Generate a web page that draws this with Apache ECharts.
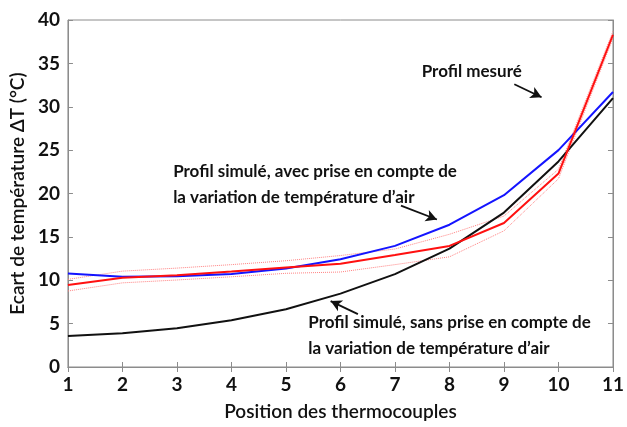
<!DOCTYPE html>
<html>
<head>
<meta charset="utf-8">
<script src="https://cdn.jsdelivr.net/npm/echarts@6/dist/echarts.min.js"></script>
<style>
  html, body { margin:0; padding:0; background:#fff; }
  #chart { width:627px; height:427px; }
</style>
</head>
<body>
<div id="chart"></div>
<script>
// positions des thermocouples
let positions = [1, 2, 3, 4, 5, 6, 7, 8, 9, 10, 11];
// profil mesuré + bornes (pointillés)
let mesure = [9.46, 10.3, 10.58, 11.0, 11.46, 11.9, 12.9, 13.96, 16.6, 22.3, 38.3];
let mesureHaut = [10.1, 11.05, 11.4, 11.8, 12.25, 12.85, 13.6, 15.3, 17.4, 22.8, 38.7];
let mesureBas = [8.76, 9.7, 10.03, 10.4, 10.8, 10.95, 11.8, 12.7, 15.7, 21.7, 37.9];
// profil simulé avec variation de température d'air
let simAvec = [10.77, 10.4, 10.46, 10.73, 11.35, 12.42, 13.96, 16.4, 19.8, 25.0, 31.7];
// profil simulé sans variation
let simSans = [3.58, 3.88, 4.46, 5.38, 6.65, 8.46, 10.7, 13.65, 17.8, 23.7, 31.0];
let yTicks = [0, 5, 10, 15, 20, 25, 30, 35, 40];

let font = "Lato, 'Open Sans', sans-serif";

function pairs(vals){
  let out = [];
  for(let i = 0; i < positions.length; i++){
    out.push([positions[i], vals[i]]);
  }
  return out;
}

let axisGray = '#8c8c8c';
let tickStyle = { show:true, inside:true, length:5, lineStyle:{ color: axisGray } };

let option = {
  animation: false,
  grid: { left:65, right:5, top:20, bottom:60, show:true, borderColor: axisGray, borderWidth:1 },
  xAxis: [
    {
      type:'value', min:1, max:11, interval:1,
      name:'Position des thermocouples', nameLocation:'middle', nameGap:35,
      nameTextStyle:{ fontFamily:font, fontSize:19, fontWeight:600, color:'#111' },
      axisLine:{ show:true, lineStyle:{ color: axisGray } },
      axisTick: tickStyle,
      axisLabel:{ fontFamily:font, fontSize:19, fontWeight:'bold', color:'#111', margin:8 },
      splitLine:{ show:false }
    },
    {
      type:'value', min:1, max:11, interval:1, position:'top',
      axisLine:{ show:true, lineStyle:{ color: axisGray } },
      axisTick: tickStyle, axisLabel:{ show:false }, splitLine:{ show:false }
    }
  ],
  yAxis: [
    {
      type:'value', min:0, max:40, interval:5,
      name:'Ecart de température ΔT (°C)', nameLocation:'middle', nameGap:40,
      nameTextStyle:{ fontFamily:font, fontSize:19, fontWeight:600, color:'#111' },
      axisLine:{ show:true, lineStyle:{ color: axisGray } },
      axisTick: tickStyle,
      axisLabel:{ fontFamily:font, fontSize:19, fontWeight:'bold', color:'#111', margin:8,
        formatter: function(v){ return yTicks.indexOf(v) != -1 ? v + '' : ''; } },
      splitLine:{ show:false }
    },
    {
      type:'value', min:0, max:40, interval:5, position:'right',
      axisLine:{ show:true, lineStyle:{ color: axisGray } },
      axisTick: tickStyle, axisLabel:{ show:false }, splitLine:{ show:false }
    }
  ],
  series: [
    { type:'line', data:pairs(mesureHaut), symbol:'none', z:1,
      lineStyle:{ color:'#ff8080', width:1, type:'dotted' } },
    { type:'line', data:pairs(mesureBas), symbol:'none', z:1,
      lineStyle:{ color:'#ff8080', width:1, type:'dotted' } },
    { type:'line', data:pairs(simSans), symbol:'none', z:2,
      lineStyle:{ color:'#111', width:2 },
      markLine:{
        silent:true, symbol:['none','arrow'], symbolSize:[9,11],
        lineStyle:{ color:'#111', width:1.8, type:'solid' },
        label:{ show:false },
        data:[
          [{ coord:[9.19, 32.6] }, { coord:[9.69, 31.1] }],
          [{ coord:[7.11, 18.6] }, { coord:[7.77, 17.0] }],
          [{ coord:[6.32, 6.1] }, { coord:[5.82, 7.6] }]
        ]
      } },
    { type:'line', data:pairs(simAvec), symbol:'none', z:3,
      lineStyle:{ color:'#1414ff', width:2 } },
    { type:'line', data:pairs(mesure), symbol:'none', z:4,
      lineStyle:{ color:'#ff1010', width:2 } }
  ]
};

const chart = echarts.init(document.getElementById('chart'));
chart.setOption(option);

// annotations placées en coordonnées de données
let notes = [
  { at:[7.49, 33.9], lines:['Profil mesuré'] },
  { at:[2.93, 22.35], lines:['Profil simulé, avec prise en compte de', 'la variation de température d\u2019air'] },
  { at:[5.41, 4.92], lines:['Profil simulé, sans prise en compte de', 'la variation de température d\u2019air'] }
];
let graphics = [];
notes.forEach(function(n){
  let p = chart.convertToPixel({ gridIndex:0 }, n.at);
  n.lines.forEach(function(t, i){
    graphics.push({
      type:'text', left:p[0], top:p[1] - 10 + i * 26, z:10,
      style:{ text:t, fontFamily:font, fontSize:17, fontWeight:'bold', fill:'#111' }
    });
  });
});
chart.setOption({ graphic: graphics });
</script>
</body>
</html>
